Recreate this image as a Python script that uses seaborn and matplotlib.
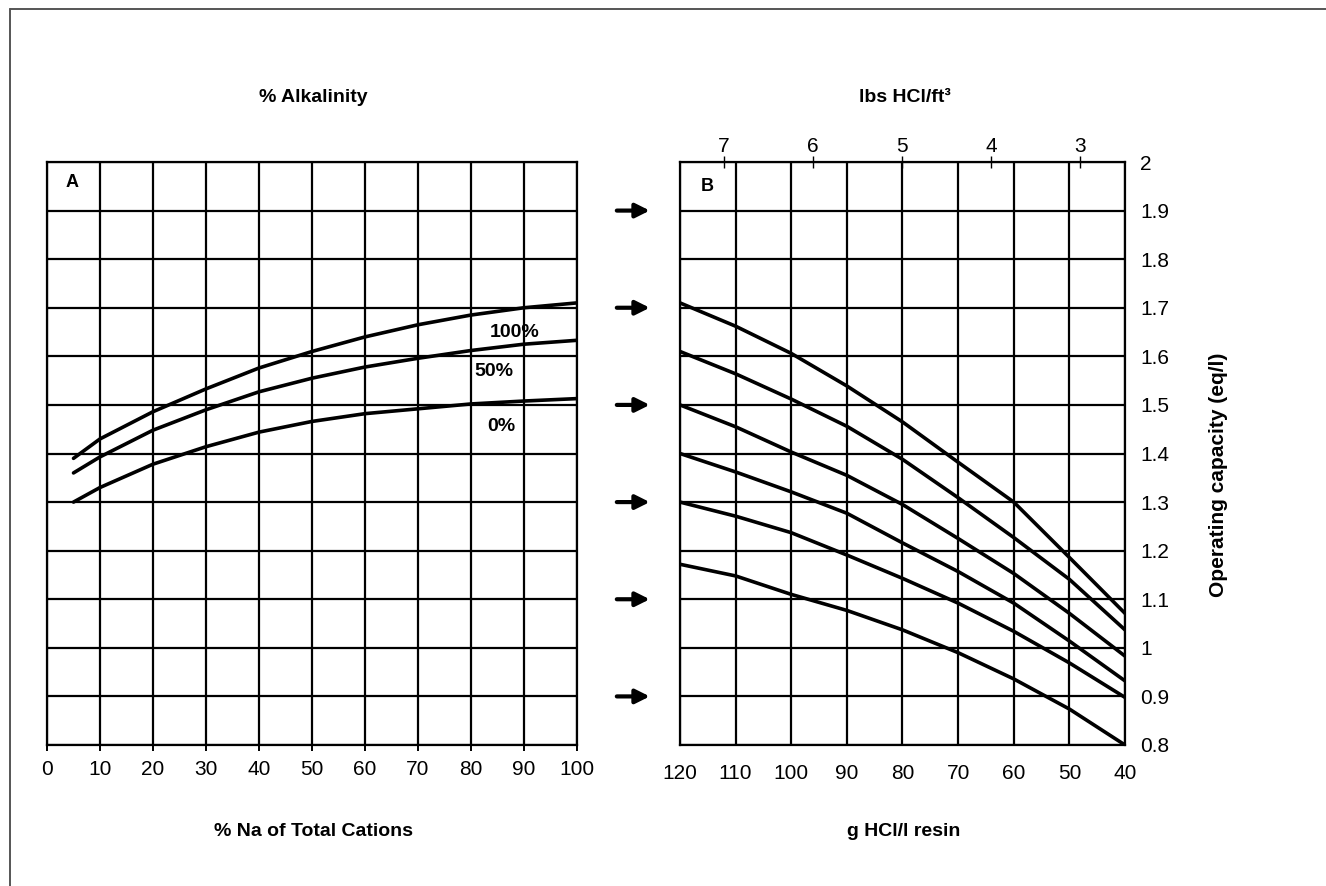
import matplotlib
matplotlib.use("Agg")
import matplotlib.pyplot as plt
import seaborn as sns
import numpy as np
import pandas as pd
from matplotlib.lines import Line2D
from matplotlib.ticker import FuncFormatter, MultipleLocator

# ---------------- data ----------------
na_pct = [5, 10, 20, 30, 40, 50, 60, 70, 80, 90, 100]
alk_100 = [1.39, 1.43, 1.486, 1.533, 1.576, 1.61, 1.64, 1.665, 1.685, 1.70, 1.71]
alk_50 = [1.36, 1.393, 1.448, 1.49, 1.527, 1.555, 1.578, 1.596, 1.612, 1.625, 1.633]
alk_0 = [1.30, 1.33, 1.378, 1.414, 1.444, 1.466, 1.482, 1.492, 1.502, 1.508, 1.513]
alk_labels = ["100%", "50%", "0%"]

hcl_g = [120, 110, 100, 90, 80, 70, 60, 50, 40]
cap_17 = [1.71, 1.662, 1.606, 1.539, 1.465, 1.382, 1.30, 1.186, 1.071]
cap_16 = [1.61, 1.564, 1.512, 1.456, 1.388, 1.309, 1.227, 1.141, 1.037]
cap_15 = [1.50, 1.455, 1.403, 1.355, 1.295, 1.225, 1.153, 1.071, 0.983]
cap_14 = [1.40, 1.362, 1.321, 1.277, 1.216, 1.157, 1.092, 1.014, 0.932]
cap_13 = [1.30, 1.271, 1.237, 1.191, 1.143, 1.092, 1.034, 0.969, 0.898]
cap_12 = [1.172, 1.148, 1.110, 1.077, 1.037, 0.99, 0.936, 0.874, 0.80]

lbs_ticks = [7, 6, 5, 4, 3]
arrow_levels = [1.9, 1.7, 1.5, 1.3, 1.1, 0.9]
G_PER_LB_FT3 = 16.018

# ---------------- style ----------------
sns.set_theme(style="white")
plt.rcParams["font.family"] = ["Liberation Sans", "DejaVu Sans"]
plt.rcParams["axes.linewidth"] = 1.6
plt.rcParams["axes.edgecolor"] = "black"
plt.rcParams["text.color"] = "black"
plt.rcParams["axes.labelcolor"] = "black"
plt.rcParams["xtick.color"] = "black"
plt.rcParams["ytick.color"] = "black"

fig = plt.figure(figsize=(13.26, 8.86), dpi=100)
W, H = 1326, 886

def fx(px):
    return px / W

def fy(py):
    return 1 - py / H

axA = fig.add_axes([fx(47), fy(745), fx(577) - fx(47), fy(162) - fy(745)])
axB = fig.add_axes([fx(680), fy(745), fx(1125) - fx(680), fy(162) - fy(745)])

# ---------------- panel A ----------------
dfA = pd.DataFrame({
    "na": na_pct * 3,
    "cap": alk_100 + alk_50 + alk_0,
    "alk": [alk_labels[0]] * len(na_pct) + [alk_labels[1]] * len(na_pct) + [alk_labels[2]] * len(na_pct),
})
sns.lineplot(data=dfA, x="na", y="cap", units="alk", estimator=None, color="black",
             lw=2.6, ax=axA, legend=False, zorder=5)
axA.set_xlim(0, 100)
axA.set_ylim(0.8, 2.0)
axA.xaxis.set_major_locator(MultipleLocator(10))
axA.yaxis.set_major_locator(MultipleLocator(0.1))
axA.grid(True, color="black", lw=1.6)
axA.set_axisbelow(True)
axA.tick_params(axis="x", which="major", bottom=True, length=4, width=1.4,
                direction="out", labelsize=15, pad=7, color="black", labelcolor="black")
axA.tick_params(axis="y", left=False, labelleft=False)
axA.set_xlabel("")
axA.set_ylabel("")
axA.text(4.7, 1.957, "A", ha="center", va="center", fontsize=13, fontweight="bold")
axA.text(88.3, 1.65, alk_labels[0], ha="center", va="center", fontsize=14, fontweight="bold")
axA.text(84.3, 1.568, alk_labels[1], ha="center", va="center", fontsize=14, fontweight="bold")
axA.text(85.8, 1.455, alk_labels[2], ha="center", va="center", fontsize=14, fontweight="bold")

# ---------------- panel B ----------------
curvesB = [cap_17, cap_16, cap_15, cap_14, cap_13, cap_12]
dfB = pd.DataFrame({
    "g": hcl_g * len(curvesB),
    "cap": sum(curvesB, []),
    "curve": sum([[i] * len(hcl_g) for i in range(len(curvesB))], []),
})
sns.lineplot(data=dfB, x="g", y="cap", units="curve", estimator=None, color="black",
             lw=2.6, ax=axB, legend=False, zorder=5)
axB.set_xlim(120, 40)
axB.set_ylim(0.8, 2.0)
axB.xaxis.set_major_locator(MultipleLocator(10))
axB.yaxis.set_major_locator(MultipleLocator(0.1))
axB.grid(True, color="black", lw=1.6)
axB.set_axisbelow(True)
axB.tick_params(axis="x", bottom=False, labelsize=15, pad=8, labelcolor="black")
axB.yaxis.tick_right()
axB.tick_params(axis="y", right=False, left=False, labelright=True, labelleft=False,
                labelsize=15, pad=5, labelcolor="black")
axB.yaxis.set_major_formatter(FuncFormatter(lambda v, p: f"{v:.1f}".rstrip("0").rstrip(".")))
for lab in axB.get_yticklabels():
    lab.set_horizontalalignment("left")
axB.set_xlabel("")
axB.set_ylabel("")
axB.text(115.1, 1.949, "B", ha="center", va="center", fontsize=13, fontweight="bold")

sec = axB.secondary_xaxis("top", functions=(lambda g: np.asarray(g) / G_PER_LB_FT3,
                                             lambda l: np.asarray(l) * G_PER_LB_FT3))
sec.set_xticks(lbs_ticks)
sec.tick_params(axis="x", direction="inout", length=8, width=1.0, labelsize=15, pad=0,
                colors="black")
sec.spines["top"].set_visible(False)

for lvl in arrow_levels:
    axB.annotate("", xy=(-0.068, lvl), xytext=(-0.142, lvl),
                 xycoords=("axes fraction", "data"), textcoords=("axes fraction", "data"),
                 arrowprops=dict(arrowstyle="-|>,head_length=0.7,head_width=0.35",
                                 lw=3.0, color="black", shrinkA=0, shrinkB=0),
                 annotation_clip=False)

# ---------------- figure texts ----------------
fig.text(fx(313), fy(98), "% Alkalinity", ha="center", va="center", fontsize=14, fontweight="bold")
fig.text(fx(905), fy(98), "lbs HCl/ft³", ha="center", va="center", fontsize=14, fontweight="bold")
fig.text(fx(313), fy(832), "% Na of Total Cations", ha="center", va="center", fontsize=14, fontweight="bold")
fig.text(fx(904), fy(832), "g HCl/l resin", ha="center", va="center", fontsize=14, fontweight="bold")
fig.text(fx(1218), fy(475), "Operating capacity (eq/l)", ha="center", va="center",
         rotation=90, fontsize=15, fontweight="bold")

# outer frame lines
fig.add_artist(Line2D([fx(10), 1.0], [fy(9), fy(9)], color="#555555", lw=1.4))
fig.add_artist(Line2D([fx(10), fx(10)], [0.0, fy(9)], color="#555555", lw=1.4))

fig.savefig("out.png", dpi=100)
